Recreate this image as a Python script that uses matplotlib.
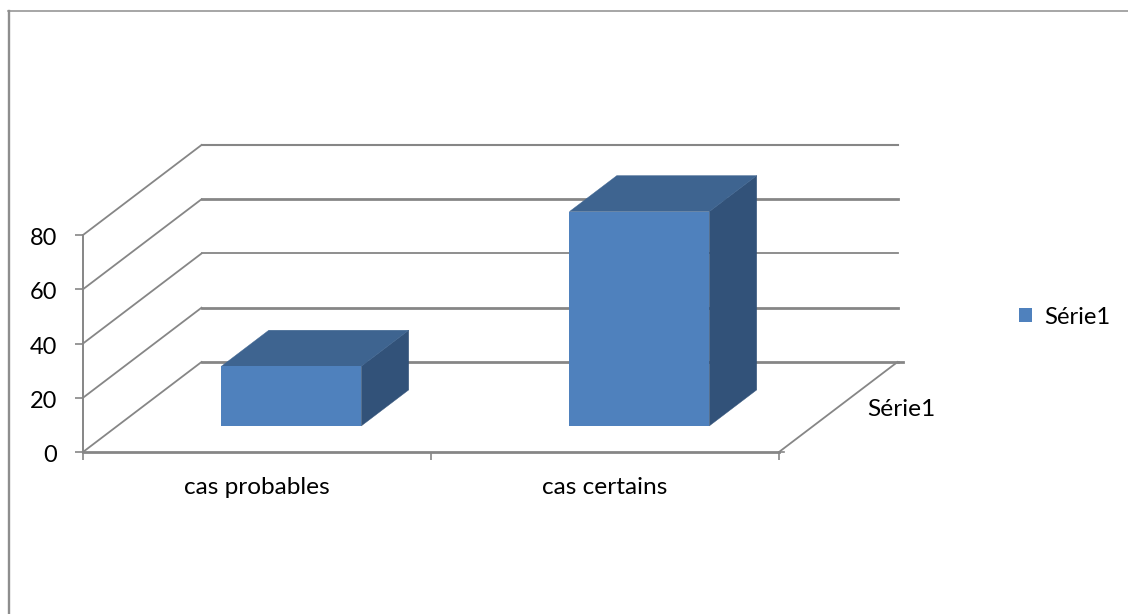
import matplotlib
matplotlib.use("Agg")
import matplotlib.pyplot as plt
from matplotlib.lines import Line2D
from matplotlib.patches import Patch, Polygon
from matplotlib.transforms import ScaledTranslation

plt.rcParams["font.family"] = ["Lato", "DejaVu Sans"]

categories = ["cas probables", "cas certains"]
values = [22, 79]
y_ticks = [0, 20, 40, 60, 80]
grid_widths = [2.0, 2.0, 1.3, 2.0, 1.5]
series_name = "Série1"

FRONT = "#4F81BD"
TOP = "#3E6490"
SIDE = "#325279"
GREY = "#868686"
TEXT_SIZE = 17.6
NUM_SIZE = 17

# Oblique projection: full floor depth expressed in axis units
DEPTH_X = 118.5 / 348
DEPTH_Y = 90 / 2.7125
BAR_WIDTH = 0.402
BAR_NEAR, BAR_FAR = 0.29, 0.69


def project(x, y, depth):
    return (x + DEPTH_X * depth, y + DEPTH_Y * depth)


W, H = 1128, 614
fig = plt.figure(figsize=(W / 100, H / 100), dpi=100, facecolor="white")
ax = fig.add_axes([83 / W, (H - 452) / H, 696 / W, 217 / H])
ax.set_xlim(0, len(categories))
ax.set_ylim(0, 80)
ax.patch.set_visible(False)

for side in ("top", "right"):
    ax.spines[side].set_visible(False)
ax.spines["left"].set_color(GREY)
ax.spines["left"].set_linewidth(1.4)
ax.spines["bottom"].set_color(GREY)
ax.spines["bottom"].set_linewidth(2.0)

ax.set_yticks(y_ticks)
ax.tick_params(axis="y", length=6, width=1.2, color=GREY, pad=12.5, labelsize=NUM_SIZE,
               labelcolor="black")
# Nudge the value labels down so they sit level with their ticks
nudge = ScaledTranslation(0, -1.5 / 100, fig.dpi_scale_trans)
for label in ax.get_yticklabels():
    label.set_transform(label.get_transform() + nudge)

ax.set_xticks(range(len(categories) + 1))
ax.set_xticklabels([])
ax.set_xticks([i + 0.5 for i in range(len(categories))], categories, minor=True)
ax.tick_params(axis="x", which="major", length=5.5, width=1.2, color=GREY)
ax.tick_params(axis="x", which="minor", length=0, pad=18, labelsize=TEXT_SIZE,
               labelcolor="black")

# Wall gridlines with their diagonals running to the front axis
n_cat = len(categories)
for tick, lw in zip(y_ticks, grid_widths):
    bx0, by0 = project(0, tick, 1)
    bx1, by1 = project(n_cat, tick, 1)
    ax.plot([0, bx0], [tick, by0], color=GREY, lw=1.3, clip_on=False, zorder=1)
    ax.plot([bx0, bx1], [by0, by1], color=GREY, lw=lw, clip_on=False, zorder=1)

# Floor right edge and the small depth-axis ticks
ex, ey = project(n_cat, 0, 1)
ax.plot([n_cat, ex], [0, ey], color=GREY, lw=1.3, clip_on=False, zorder=1)
stub = 5 / 348
ax.plot([ex, ex + stub], [ey, ey], color=GREY, lw=2.0, clip_on=False, zorder=1)
ax.plot([n_cat, n_cat + stub], [0, 0], color=GREY, lw=1.2, clip_on=False, zorder=1)

# Bars as three visible faces: right side, top, front
for i, value in enumerate(values):
    left = i + 0.5 - BAR_WIDTH / 2
    right = i + 0.5 + BAR_WIDTH / 2
    near_bl = project(left, 0, BAR_NEAR)
    near_br = project(right, 0, BAR_NEAR)
    near_tr = project(right, value, BAR_NEAR)
    near_tl = project(left, value, BAR_NEAR)
    far_br = project(right, 0, BAR_FAR)
    far_tr = project(right, value, BAR_FAR)
    far_tl = project(left, value, BAR_FAR)
    ax.add_patch(Polygon([near_br, far_br, far_tr, near_tr], closed=True,
                         facecolor=SIDE, edgecolor=SIDE, lw=0.3, clip_on=False, zorder=3))
    ax.add_patch(Polygon([near_tl, near_tr, far_tr, far_tl], closed=True,
                         facecolor=TOP, edgecolor=TOP, lw=0.3, clip_on=False, zorder=3))
    ax.add_patch(Polygon([near_bl, near_br, near_tr, near_tl], closed=True,
                         facecolor=FRONT, edgecolor="none", clip_on=False, zorder=4))

# Depth-axis label beside the floor
fig.text(901 / W, 1 - 409.5 / H, series_name, fontsize=TEXT_SIZE, ha="center", va="center",
         color="black")

legend = fig.legend(handles=[Patch(facecolor=FRONT, edgecolor="none", label=series_name)],
                    loc="center left", bbox_to_anchor=(1019 / W, 1 - 317 / H),
                    frameon=False, fontsize=17.2, handlelength=0.56, handleheight=0.56,
                    handletextpad=0.48, borderpad=0, borderaxespad=0)

# Chart frame: only the top and left edges fall inside the canvas
fig.add_artist(Line2D([8.5 / W, 8.5 / W], [0, 1 - 11 / H], color="#8E8E8E", lw=1.7,
                      transform=fig.transFigure))
fig.add_artist(Line2D([8 / W, 1], [1 - 11 / H, 1 - 11 / H], color="#8E8E8E", lw=1.1,
                      transform=fig.transFigure))

fig.savefig("out.png", dpi=100, facecolor="white")
